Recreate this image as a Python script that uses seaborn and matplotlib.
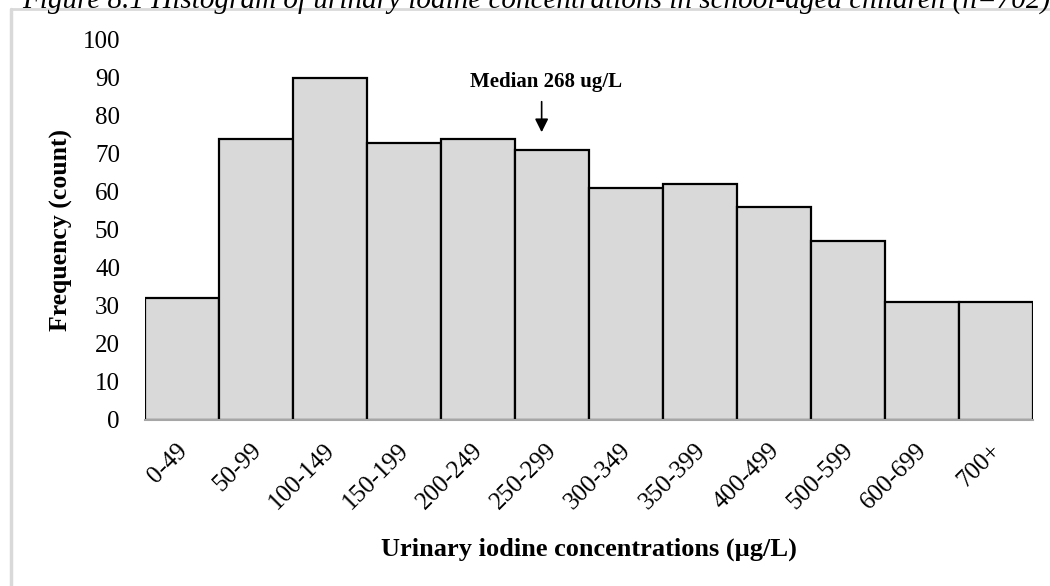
import matplotlib
matplotlib.use("Agg")
import matplotlib.pyplot as plt
import matplotlib.transforms as mtransforms
import seaborn as sns
import pandas as pd
from matplotlib.lines import Line2D

categories = ["0-49", "50-99", "100-149", "150-199", "200-249", "250-299",
              "300-349", "350-399", "400-499", "500-599", "600-699", "700+"]
counts = [32, 74, 90, 73, 74, 71, 61, 62, 56, 47, 31, 31]
yticks = [0, 10, 20, 30, 40, 50, 60, 70, 80, 90, 100]
median_value = 268
median_bin_index = 5
median_bin_start = 250
bin_width = 50

sns.set_theme(style="white")
plt.rcParams['font.family'] = ['Liberation Serif', 'DejaVu Serif']
plt.rcParams['text.color'] = 'black'
plt.rcParams['axes.labelcolor'] = 'black'
plt.rcParams['xtick.color'] = 'black'
plt.rcParams['ytick.color'] = 'black'

df = pd.DataFrame({"bin": categories, "count": counts})

fig = plt.figure(figsize=(10.5, 5.86), dpi=100)
ax = fig.add_axes([145/1050, 1-420/586, (1033-145)/1050, (420-40)/586])

sns.barplot(data=df, x="bin", y="count", order=categories, color="#d9d9d9",
            saturation=1, width=1.0, edgecolor="black", linewidth=1.6, ax=ax)

ax.set_xlim(-0.5, len(categories) - 0.5)
ax.set_ylim(0, 100)
ax.set_yticks(yticks)
ax.set_yticklabels([str(t) for t in yticks], fontsize=18)
ax.set_xticks(range(len(categories)))
ax.set_xticklabels(categories, rotation=45, ha="right", rotation_mode="anchor", fontsize=18)
ax.tick_params(axis="both", length=0)
ax.tick_params(axis="y", pad=18)
ax.tick_params(axis="x", pad=14)
offset = mtransforms.ScaledTranslation(-6/100, 0, fig.dpi_scale_trans)
for lbl in ax.get_xticklabels():
    lbl.set_transform(lbl.get_transform() + offset)

for s in ["top", "right", "left"]:
    ax.spines[s].set_visible(False)
ax.spines["bottom"].set_color("#a6a6a6")
ax.spines["bottom"].set_linewidth(1.5)

ax.set_xlabel("Urinary iodine concentrations (µg/L)", fontsize=19, fontweight="bold", labelpad=17)
ax.set_ylabel("Frequency (count)", fontsize=18.5, fontweight="bold", labelpad=7)

# median annotation
mx = median_bin_index - 0.5 + (median_value - median_bin_start) / bin_width
ax.annotate("", xy=(mx, 75.0), xytext=(mx, 84.5),
            arrowprops=dict(arrowstyle="-|>", color="black", lw=1.2, mutation_scale=20))
ax.text(mx + 0.06, 89.0, f"Median {median_value} ug/L", ha="center", va="center",
        fontsize=15, fontweight="bold")

# frame lines of the figure box
fig.add_artist(Line2D([11/1050, 11/1050], [0, 1-9/586], color="#d9d9d9", lw=2.5, transform=fig.transFigure))
fig.add_artist(Line2D([11/1050, 1], [1-9/586, 1-9/586], color="#d9d9d9", lw=2.0, transform=fig.transFigure))

# clipped caption at top
fig.text(22/1050, 1-9/586,
         "Figure 8.1 Histogram of urinary iodine concentrations in school-aged children (n=702)",
         ha="left", va="baseline", fontsize=21, fontstyle="italic")

fig.savefig("out.png", dpi=100)
